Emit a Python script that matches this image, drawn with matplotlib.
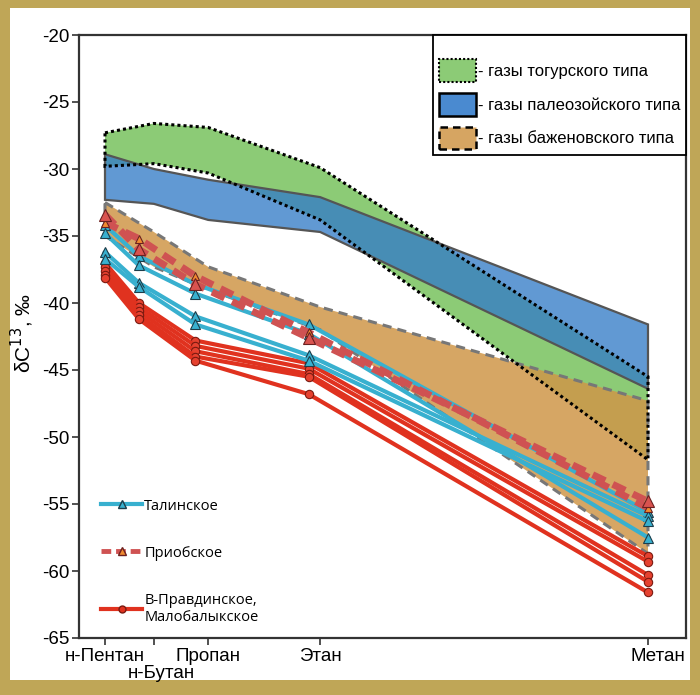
import numpy as np
import matplotlib
matplotlib.use("Agg")
import matplotlib.pyplot as plt
import matplotlib.transforms as mtransforms
from matplotlib.patches import Patch, Rectangle
from matplotlib.lines import Line2D

# x = 1/n (Chung plot), n - carbon number
compounds = ["н-Пентан", "н-Бутан", "Пропан", "Этан", "Метан"]
x_data = [1 / 5, 1 / 4, 1 / 3, 1 / 2, 1 / 1]

# gas-type fields (upper / lower edge), ‰
togur_top = [-27.3, -26.6, -26.9, -29.9, -45.5]
togur_bot = [-29.8, -29.6, -30.3, -33.8, -51.7]
paleo_top = [-28.9, -30.0, -30.8, -32.1, -41.6]
paleo_bot = [-32.3, -32.6, -33.8, -34.7, -46.4]
bazh_top = [-32.5, -34.7, -37.3, -40.3, -47.3]
bazh_bot = [-35.0, -37.3, -39.0, -42.0, -58.7]

# Талинское
talin = [
    [-34.2, -36.5, -38.6, -41.6, -55.6],
    [-34.8, -37.2, -39.3, -42.3, -57.5],
    [-36.2, -38.5, -41.0, -43.9, -55.9],
    [-36.7, -38.8, -41.6, -44.3, -56.3],
]
# Приобское
priob_a = [-33.4, -36.0, -38.6, -42.6, -54.8]
priob_b = [-34.0, -35.2, -38.0, -42.2, -55.3]
# В-Правдинское, Малобалыкское
pravd = [
    [-37.0, -40.0, -42.8, -44.5, -58.9],
    [-37.3, -40.3, -43.2, -44.9, -59.3],
    [-37.6, -40.6, -43.6, -45.3, -60.3],
    [-37.9, -40.9, -44.0, -45.5, -60.8],
    [-38.1, -41.2, -44.3, -46.8, -61.6],
]

# vertices of the fields / tick marks sit slightly off the 1/n positions in the original
x_field = [0.2, 0.272, 0.352, 0.517, 1.0]

plt.rcParams["font.family"] = ["Liberation Sans", "DejaVu Sans"]
plt.rcParams["axes.unicode_minus"] = False

fig = plt.figure(figsize=(7, 6.95), dpi=100, facecolor="#bfa657")
fig.patches.append(Rectangle((10 / 700, 15 / 695), 680 / 700, 672 / 695,
                             transform=fig.transFigure, facecolor="white",
                             edgecolor="none", zorder=-10))
ax = fig.add_axes([79 / 700, 1 - 638 / 695, 607 / 700, 603 / 695])
ax.set_facecolor("white")

green = "#8ccb76"
blue = "#347cc7"
tan = "#cf9749"
xx = x_field + x_field[::-1]
# fields
ax.fill(xx, togur_top + togur_bot[::-1], facecolor=green, edgecolor="none", zorder=1)
ax.fill(xx, bazh_top + bazh_bot[::-1], facecolor=tan, alpha=0.85,
        edgecolor="none", zorder=2)
ax.fill(xx, paleo_top + paleo_bot[::-1], facecolor=blue, alpha=0.78,
        edgecolor="none", zorder=2.5)
ax.fill(xx, bazh_top + bazh_bot[::-1], facecolor="none", edgecolor="#777777",
        lw=2.2, linestyle=(0, (3, 2)), zorder=3)
ax.fill(xx, paleo_top + paleo_bot[::-1], facecolor="none", edgecolor="#555555",
        lw=1.6, zorder=3)
ax.fill(xx, togur_top + togur_bot[::-1], facecolor="none", edgecolor="black",
        lw=2.2, linestyle=(0, (1, 1)), zorder=3.1)

red = "#e0321f"
cyan = "#38b0cf"
for y in pravd:
    ax.plot(x_data, y, color=red, lw=3, marker="o", ms=6, mfc="#e5412f",
            mec="#7a1a10", mew=0.8, zorder=4)
for y in talin:
    ax.plot(x_data, y, color=cyan, lw=3, marker="^", ms=7, mfc=cyan,
            mec="#1d3d4a", mew=0.8, zorder=5)
ax.plot(x_data, priob_b, color="#cf5252", lw=5, linestyle=(0, (2, 1.2)),
        marker="^", ms=6, mfc="#f08a30", mec="#6b2020", mew=0.8, zorder=6)
ax.plot(x_data, priob_a, color="#cf5252", lw=5, linestyle=(0, (2, 1.2)),
        marker="^", ms=9, mfc="#d9534f", mec="#6b2020", mew=0.8, zorder=6)

ax.set_xlim(0.1617, 1.056)
ax.set_ylim(-65, -20)
ax.set_yticks(np.arange(-65, -19, 5))
ax.set_xticks(x_field)
ax.set_xticklabels(compounds)
ax.tick_params(axis="both", labelsize=13.5, direction="out", length=5, width=1.2,
               color="#333333", pad=2)
ticks = ax.xaxis.get_major_ticks()
ticks[1].label1.set_y(-0.028)
# labels of butane and methane stand a bit right of their ticks
for i, dx in [(1, 7), (4, 10)]:
    lab = ticks[i].label1
    lab.set_transform(lab.get_transform() +
                      mtransforms.ScaledTranslation(dx / 100, 0, fig.dpi_scale_trans))
for s in ax.spines.values():
    s.set_color("#333333")
    s.set_linewidth(1.6)
fig.text(22 / 700, 1 - 333 / 695, "δC$^{13}$, ‰", rotation=90, fontsize=15,
         ha="center", va="center")

# legend of fields
h1 = [
    Patch(facecolor=green, edgecolor="black", lw=1.5, linestyle=(0, (1, 1))),
    Patch(facecolor="#4a8ad0", edgecolor="black", lw=1.8),
    Patch(facecolor="#d6a562", edgecolor="black", lw=1.8, linestyle=(0, (3, 2))),
]
t1 = ["- газы тогурского типа", "- газы палеозойского типа", "- газы баженовского типа"]
leg1 = ax.legend(h1, t1, loc="upper right", bbox_to_anchor=(1.0, 1.0), borderaxespad=0,
                 fancybox=False, edgecolor="black", framealpha=1, fontsize=12,
                 handlelength=2.2, handleheight=1.7, handletextpad=0.1,
                 labelspacing=0.68, borderpad=0.35, title=" ", title_fontsize=5)
leg1.get_frame().set_linewidth(1.3)
ax.add_artist(leg1)

# legend of fields' lines
h2 = [
    Line2D([], [], color=cyan, lw=3, marker="^", ms=6, mfc=cyan, mec="#1d3d4a"),
    Line2D([], [], color="#cf5252", lw=3.5, linestyle=(0, (2, 1)), marker="^", ms=6,
           mfc="#f08a30", mec="#6b2020"),
    Line2D([], [], color=red, lw=3, marker="o", ms=5, mfc=red, mec="#7a1a10"),
]
t2 = ["Талинское", "Приобское", "В-Правдинское,\nМалобалыкское"]
leg2 = ax.legend(h2, t2, loc="lower left", bbox_to_anchor=(0.015, 0.0), frameon=False,
                 prop={"family": ["Open Sans", "DejaVu Sans"], "size": 10.5},
                 handlelength=2.8, handletextpad=0.15, labelspacing=2.2)

fig.savefig("out.png", dpi=100, facecolor=fig.get_facecolor())
